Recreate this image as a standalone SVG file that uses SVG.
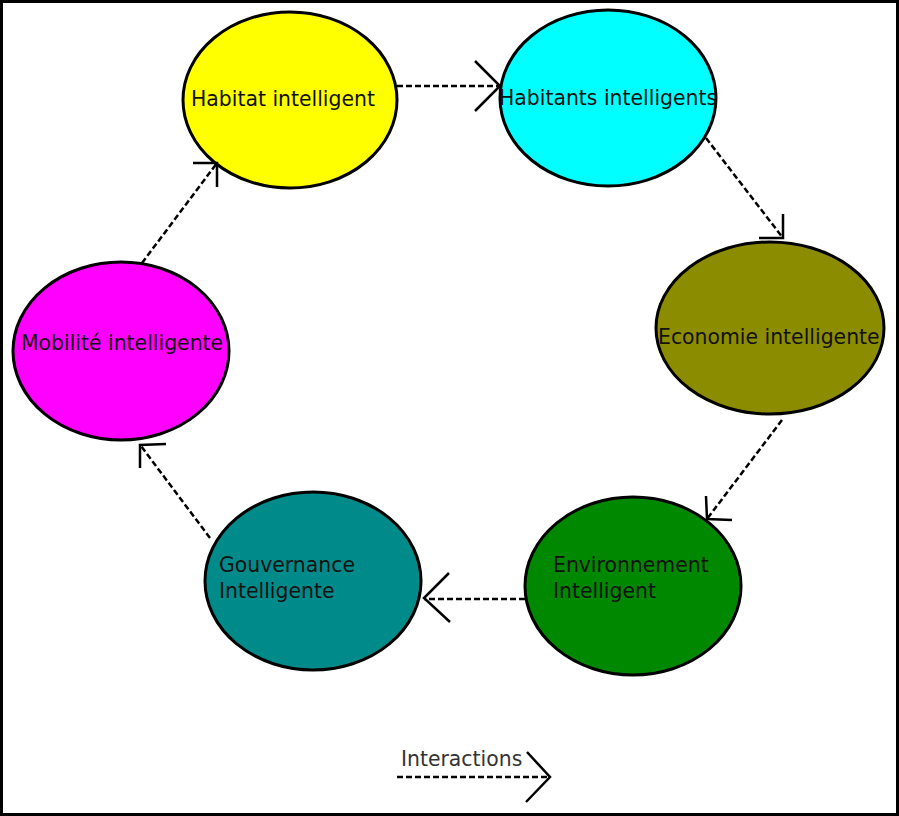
<svg xmlns="http://www.w3.org/2000/svg" width="899" height="816" viewBox="0 0 899 816">
<style>
.n ellipse{stroke:#000;stroke-width:3}
text{font-family:"DejaVu Sans","Liberation Sans",sans-serif;font-size:20.4px;fill:#111}
.c line{stroke:#000;stroke-width:2.5;stroke-dasharray:6,3;fill:none}
.c polyline{stroke:#000;stroke-width:2.5;fill:none}
</style>
<rect x="1.5" y="1.5" width="896" height="813" fill="#fff" stroke="#000" stroke-width="3"/>
<g id="habitat" class="n"><ellipse cx="290" cy="100" rx="107" ry="88" fill="#ffff00"/><text x="191" y="106">Habitat intelligent</text></g>
<g id="habitants" class="n"><ellipse cx="608" cy="98" rx="108" ry="88" fill="#00ffff"/><text x="499" y="105">Habitants intelligents</text></g>
<g id="economie" class="n"><ellipse cx="770" cy="328" rx="114" ry="86" fill="#8c8c00"/><text x="658" y="344">Economie intelligente</text></g>
<g id="environnement" class="n"><ellipse cx="633" cy="586" rx="108" ry="89" fill="#008800"/><text x="553" y="572">Environnement</text><text x="553" y="598">Intelligent</text></g>
<g id="gouvernance" class="n"><ellipse cx="313" cy="581" rx="108" ry="89" fill="#008a8a"/><text x="219" y="572">Gouvernance</text><text x="219" y="598">Intelligente</text></g>
<g id="mobilite" class="n"><ellipse cx="121" cy="351" rx="108" ry="89" fill="#ff00ff"/><text x="21" y="350">Mobilité intelligente</text></g>
<g id="connectors" class="c">
<line x1="397" y1="86" x2="500" y2="86"/><polyline points="475,61 500,86 475,111"/>
<line x1="706" y1="138" x2="783" y2="238"/><polyline points="783,214 783,238 759,238"/>
<line x1="782" y1="420" x2="707" y2="519"/><polyline points="706,496 707,519 732,520"/>
<line x1="525" y1="599" x2="424" y2="599"/><polyline points="449,573 424,598 450,622"/>
<line x1="210" y1="538" x2="141" y2="446"/><polyline points="166,444 140,445 140,468"/>
<line x1="142" y1="263" x2="217" y2="163"/><polyline points="193,163 217,163 217,187"/>
</g>
<g id="legend" class="c">
<text x="401" y="766" style="fill:#333">Interactions</text>
<line x1="397" y1="777" x2="550" y2="777"/><polyline points="527,752 550,777 526,802"/>
</g>
</svg>
